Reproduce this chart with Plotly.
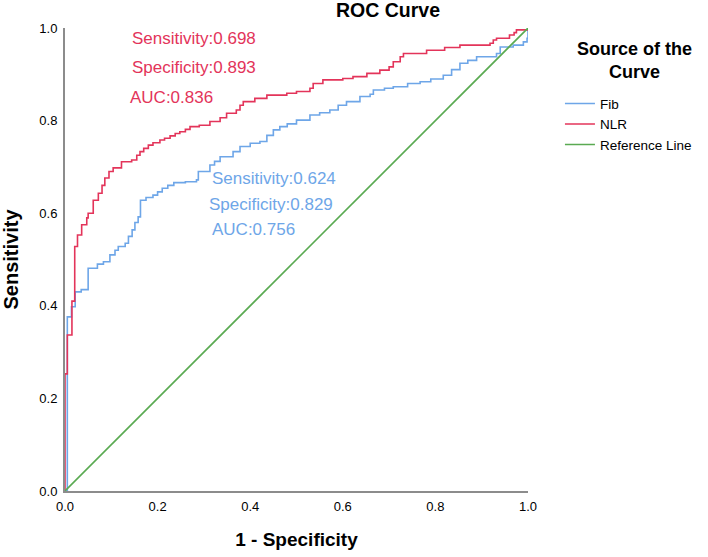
import plotly.graph_objects as go

# ---- data ----
nlr_fpr = [0, 0, 0.005, 0.015, 0.021, 0.027, 0.036, 0.047, 0.05, 0.061, 0.072, 0.08, 0.086, 0.095,
           0.104, 0.122, 0.144, 0.155, 0.162, 0.17, 0.18, 0.19, 0.205, 0.215, 0.227, 0.238, 0.248,
           0.26, 0.27, 0.29, 0.313, 0.335, 0.349, 0.37, 0.378, 0.385, 0.41, 0.436, 0.479, 0.50,
           0.529, 0.536, 0.557, 0.60, 0.622, 0.652, 0.68, 0.70, 0.709, 0.724, 0.731, 0.781, 0.82,
           0.853, 0.918, 0.925, 0.932, 0.96, 0.97, 0.975, 1.0]
nlr_tpr = [0, 0.253, 0.337, 0.41, 0.528, 0.553, 0.575, 0.59, 0.60, 0.628, 0.643, 0.66, 0.676, 0.69,
           0.698, 0.711, 0.715, 0.725, 0.733, 0.74, 0.747, 0.752, 0.758, 0.762, 0.767, 0.772, 0.776,
           0.781, 0.787, 0.79, 0.798, 0.806, 0.816, 0.823, 0.833, 0.841, 0.848, 0.855, 0.859, 0.863,
           0.87, 0.88, 0.888, 0.891, 0.895, 0.902, 0.909, 0.916, 0.927, 0.938, 0.945, 0.952, 0.958,
           0.963, 0.967, 0.974, 0.978, 0.985, 0.99, 0.996, 1.0]

fib_fpr = [0, 0.005, 0.005, 0.014, 0.022, 0.035, 0.05, 0.05, 0.07, 0.083, 0.097, 0.108, 0.115, 0.13,
           0.137, 0.145, 0.151, 0.158, 0.163, 0.175, 0.19, 0.20, 0.21, 0.222, 0.235, 0.26, 0.284,
           0.288, 0.313, 0.323, 0.335, 0.363, 0.378, 0.40, 0.421, 0.436, 0.45, 0.464, 0.48, 0.50,
           0.529, 0.55, 0.572, 0.59, 0.608, 0.637, 0.659, 0.666, 0.69, 0.709, 0.74, 0.767, 0.79,
           0.817, 0.835, 0.853, 0.87, 0.889, 0.932, 0.94, 0.968, 0.99, 0.998, 1.0]
fib_tpr = [0, 0, 0.376, 0.398, 0.43, 0.435, 0.441, 0.481, 0.49, 0.495, 0.51, 0.52, 0.528, 0.535,
           0.55, 0.564, 0.58, 0.592, 0.628, 0.634, 0.639, 0.646, 0.654, 0.66, 0.666, 0.668, 0.672,
           0.69, 0.704, 0.712, 0.722, 0.733, 0.744, 0.751, 0.755, 0.768, 0.78, 0.787, 0.793, 0.801,
           0.812, 0.817, 0.823, 0.833, 0.841, 0.852, 0.857, 0.866, 0.87, 0.873, 0.88, 0.884, 0.89,
           0.898, 0.91, 0.924, 0.93, 0.938, 0.945, 0.959, 0.963, 0.97, 0.978, 1.0]

ref_x = [0, 1]
ref_y = [0, 1]

tick_vals = [0, 0.2, 0.4, 0.6, 0.8, 1.0]
tick_text = ["0.0", "0.2", "0.4", "0.6", "0.8", "1.0"]

nlr_text = ["Sensitivity:0.698", "Specificity:0.893", "AUC:0.836"]
fib_text = ["Sensitivity:0.624", "Specificity:0.829", "AUC:0.756"]
legend_title = "Source of the<br>Curve"

RED = "#E3345A"
BLUE = "#6EA6E8"
GREEN = "#5AAA52"
FONT = "Liberation Sans, Arial, sans-serif"

fig = go.Figure()
fig.add_trace(go.Scatter(x=fib_fpr, y=fib_tpr, mode="lines", name="Fib",
                         line=dict(color=BLUE, width=1.6, shape="hv")))
fig.add_trace(go.Scatter(x=nlr_fpr, y=nlr_tpr, mode="lines", name="NLR",
                         line=dict(color=RED, width=1.6, shape="hv")))
fig.add_trace(go.Scatter(x=ref_x, y=ref_y, mode="lines", name="Reference Line",
                         line=dict(color=GREEN, width=1.6)))

# text annotations near the curves
nlr_pos = [(0.140, 0.978), (0.140, 0.914), (0.136, 0.849)]
fib_pos = [(0.313, 0.676), (0.306, 0.618), (0.313, 0.564)]
for t, (x, y) in zip(nlr_text, nlr_pos):
    fig.add_annotation(x=x, y=y, text=t, showarrow=False, xanchor="left", yanchor="middle",
                       font=dict(family=FONT, size=17, color=RED))
for t, (x, y) in zip(fib_text, fib_pos):
    fig.add_annotation(x=x, y=y, text=t, showarrow=False, xanchor="left", yanchor="middle",
                       font=dict(family=FONT, size=17, color=BLUE))

# legend title (two centred lines)
fig.add_annotation(x=1.231, y=(491 - 61) / 463, xref="paper", yref="paper",
                   text="<b>" + legend_title + "</b>", align="center",
                   showarrow=False, xanchor="center", yanchor="middle",
                   font=dict(family=FONT, size=18, color="black"))

axis_common = dict(range=[0, 1], tickvals=tick_vals, ticktext=tick_text, showgrid=False,
                   zeroline=False, showline=True, linecolor="#8C8C8C", linewidth=2, ticks="",
                   tickfont=dict(family=FONT, size=13, color="black"))

fig.update_layout(
    width=708, height=557,
    margin=dict(l=65, r=180, t=28, b=66, autoexpand=False),
    paper_bgcolor="white", plot_bgcolor="white",
    font=dict(family=FONT, color="black"),
    title=dict(text="<b>ROC Curve</b>", x=388 / 708, xref="container", xanchor="center",
               y=1 - 10 / 557, yref="container", yanchor="middle",
               font=dict(family=FONT, size=19.5, color="black")),
    xaxis=dict(title=dict(text="<b>1 - Specificity</b>", font=dict(family=FONT, size=19), standoff=20),
               ticklabelstandoff=2, **axis_common),
    yaxis=dict(title=dict(text="<b>Sensitivity</b>", font=dict(family=FONT, size=20), standoff=18),
               ticklabelstandoff=3, **axis_common),
    legend=dict(font=dict(family=FONT, size=13.5, color="black"),
                x=1.069, xanchor="left", y=0.870, yanchor="top",
                bgcolor="rgba(0,0,0,0)", tracegroupgap=0),
    showlegend=True,
)

fig.write_html("out.html", config={"displayModeBar": False},
               post_script="document.body.style.margin='0';")
